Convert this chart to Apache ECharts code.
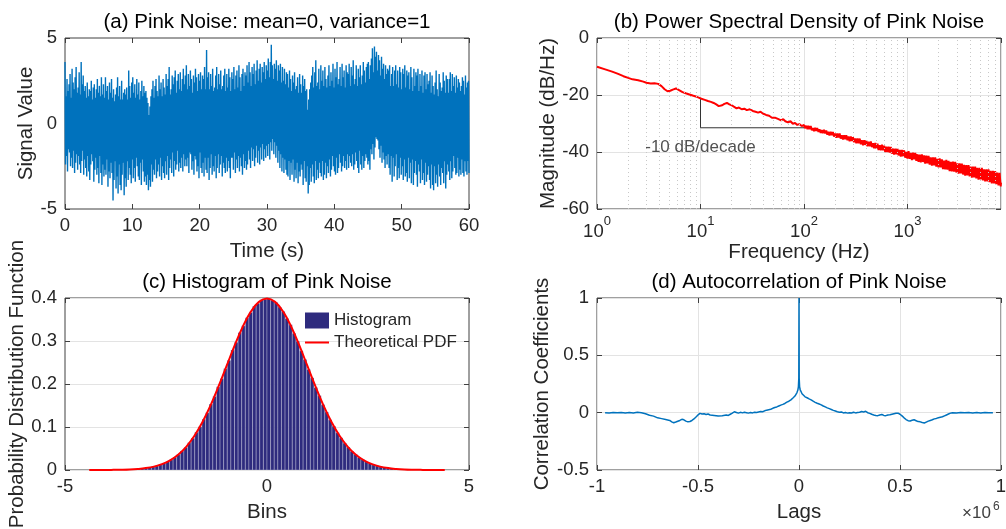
<!DOCTYPE html>
<html><head><meta charset="utf-8">
<script src="https://cdn.jsdelivr.net/npm/echarts@6/dist/echarts.min.js"></script>
<style>html,body{margin:0;padding:0;background:#fff}#c{width:1006px;height:529px}</style>
</head><body><div id="c"></div>
<script>
const FONT = '"Liberation Sans", Arial, Helvetica, sans-serif';

// ---------- (a) Pink noise time series: successive local max / min values ----------
const signalDuration = 60;
const signalValues = [
3.6,-2.4,1.6,-1.9,2.6,-2.8,1.9,-1.5,2.3,-1.7,2.9,-2.5,1.5,-2.0,3.2,-2.6,2.4,-1.6,2.0,-2.9,2.7,-2.3,3.3,-1.8,1.8,-2.7,2.1,-1.9,3.0,-2.4,1.7,-2.9,3.6,-2.2,2.3,-1.6,2.8,-3.0,1.9,-2.1,
2.2,-2.6,1.5,-3.1,2.4,-1.9,1.6,-2.8,2.0,-3.3,1.9,-2.4,2.5,-1.8,1.4,-2.2,2.1,-3.4,2.3,-2.7,1.5,-2.0,2.0,-3.0,2.6,-2.6,1.8,-3.5,2.2,-1.9,1.6,-2.9,2.7,-3.6,1.7,-2.4,2.3,-3.1,1.5,-2.7,
2.7,-3.0,1.9,-2.1,2.2,-3.7,1.4,-2.8,2.4,-3.2,1.8,-2.3,2.6,-2.9,1.5,-4.5,2.0,-3.3,1.3,-2.2,1.7,-3.8,2.1,-3.1,2.7,-4.1,1.6,-2.4,2.2,-3.6,1.4,-3.9,2.5,-3.0,1.4,-2.3,1.8,-4.2,2.0,-3.2,
1.7,-3.7,2.1,-2.2,1.4,-3.3,3.1,-2.6,2.2,-3.0,1.5,-3.5,2.4,-2.1,2.7,-3.2,1.8,-2.6,2.3,-3.4,1.5,-2.0,2.6,-2.5,1.7,-3.1,2.4,-3.3,1.4,-2.3,1.9,-3.6,2.5,-2.1,1.6,-2.8,2.2,-3.4,1.8,-3.1,
1.9,-3.6,1.5,-3.0,1.2,-3.9,0.5,-3.3,1.0,-3.7,1.6,-2.4,2.0,-3.4,2.5,-2.7,1.5,-3.0,2.2,-2.1,2.6,-3.2,1.9,-2.8,1.6,-2.4,2.8,-3.1,2.0,-2.0,2.4,-3.3,1.6,-2.5,2.6,-2.9,2.1,-3.2,1.7,-2.2,
2.9,-3.0,2.2,-1.9,2.6,-3.3,3.3,-2.6,1.7,-2.1,2.0,-2.9,2.8,-1.7,2.3,-3.1,2.7,-2.2,3.1,-2.7,1.8,-2.4,2.5,-1.6,2.9,-2.8,2.0,-2.3,3.0,-2.6,1.9,-2.0,2.6,-2.8,3.2,-1.8,2.3,-2.5,2.8,-2.1,
3.4,-2.5,2.0,-2.0,2.9,-2.9,2.2,-1.7,3.1,-1.8,2.6,-2.7,1.8,-2.2,2.8,-3.0,2.4,-1.9,3.2,-2.1,2.7,-2.8,1.9,-2.5,2.9,-3.2,2.5,-1.7,3.0,-2.6,2.0,-2.9,2.8,-2.3,2.6,-3.1,3.3,-2.0,2.0,-2.7,
4.3,-2.9,2.7,-2.0,3.0,-3.3,2.0,-2.6,2.9,-1.8,2.2,-3.0,3.2,-2.5,1.9,-2.8,2.1,-1.9,2.8,-3.2,3.3,-2.6,2.0,-1.8,2.9,-2.9,2.3,-2.4,3.1,-1.9,2.0,-3.1,2.2,-2.3,2.8,-2.6,3.2,-2.9,1.9,-2.0,
2.9,-2.8,2.1,-2.2,3.2,-2.6,2.7,-3.2,1.9,-2.0,3.0,-2.0,2.6,-2.7,3.3,-1.7,2.0,-2.9,2.8,-2.1,3.1,-2.6,2.1,-1.9,3.4,-2.8,2.7,-2.0,1.9,-2.5,2.9,-3.0,3.2,-1.8,2.2,-2.6,3.0,-2.2,2.8,-2.7,
3.4,-2.4,2.4,-1.6,3.6,-2.1,3.0,-2.6,2.2,-1.4,3.3,-2.2,2.9,-1.5,3.5,-2.5,2.3,-2.0,3.1,-1.3,3.7,-2.3,2.5,-1.6,3.2,-2.4,3.5,-1.4,2.4,-2.1,3.3,-1.2,3.0,-2.2,3.6,-1.5,2.6,-2.0,3.4,-1.3,
3.1,-1.9,3.8,-1.2,2.7,-2.1,3.6,-1.1,4.6,-1.6,3.4,-0.9,2.6,-1.8,3.5,-1.1,3.2,-2.0,3.7,-1.3,2.5,-2.3,3.4,-1.6,3.1,-2.6,3.5,-1.8,2.4,-2.8,3.3,-2.0,2.5,-2.9,3.2,-2.1,2.3,-2.7,3.0,-3.0,
2.9,-3.1,2.1,-2.2,3.1,-3.3,2.6,-2.3,1.9,-3.0,2.8,-2.1,2.4,-3.4,3.0,-2.7,2.0,-3.2,2.2,-2.3,2.7,-3.5,1.8,-2.8,2.9,-3.1,2.3,-2.4,1.8,-2.7,2.8,-3.6,2.2,-2.2,2.6,-3.2,1.9,-3.4,2.0,-2.5,
0.8,-4.1,1.4,-3.6,2.0,-2.6,2.4,-3.4,2.8,-2.4,3.3,-3.1,2.1,-3.5,3.0,-2.2,3.7,-3.3,2.2,-2.7,2.4,-3.2,3.2,-2.3,2.0,-2.9,3.4,-3.1,2.5,-2.2,3.1,-3.3,2.2,-3.0,3.3,-2.3,2.6,-3.2,2.1,-2.5,
2.8,-2.9,3.4,-2.1,2.2,-3.1,3.0,-2.7,2.5,-1.9,3.5,-2.5,2.1,-2.8,3.2,-3.0,2.7,-2.0,3.6,-2.9,2.3,-2.6,2.6,-1.8,3.3,-2.3,2.2,-2.8,3.5,-2.5,2.7,-1.9,3.1,-2.6,2.1,-2.2,3.4,-2.7,3.0,-1.8,
2.9,-2.6,3.5,-1.9,2.2,-2.3,3.3,-2.5,2.8,-1.8,3.7,-2.7,2.3,-2.4,2.6,-1.7,3.4,-2.2,2.2,-2.6,3.2,-2.9,2.7,-1.6,3.4,-2.4,2.3,-2.7,2.8,-1.9,3.6,-2.6,3.1,-2.2,2.4,-1.8,3.3,-2.0,3.5,-2.4,
3.6,-2.2,2.6,-2.7,3.4,-1.5,3.8,-1.8,4.4,-1.2,3.0,-2.1,4.5,-1.4,3.9,-0.8,4.2,-0.9,3.1,-1.0,4.0,-1.5,3.7,-2.0,2.8,-1.3,3.9,-2.3,3.2,-1.7,3.5,-2.1,2.6,-2.6,3.4,-1.9,2.9,-2.4,3.2,-1.8,
3.1,-2.6,3.4,-3.0,2.2,-1.9,2.9,-3.4,3.3,-2.0,2.2,-3.1,3.1,-2.5,3.4,-1.8,2.3,-3.3,3.1,-2.6,2.1,-3.2,3.3,-2.0,3.0,-3.0,2.0,-2.5,3.2,-3.3,2.9,-2.1,3.4,-3.1,2.1,-2.9,3.1,-3.4,2.8,-2.0,
3.0,-3.2,2.0,-2.3,3.3,-3.5,2.7,-2.1,1.9,-3.6,3.2,-2.9,2.2,-2.2,3.0,-3.0,2.8,-3.7,3.2,-2.4,1.9,-2.8,2.9,-3.5,2.2,-2.1,3.1,-3.3,1.8,-2.9,2.8,-3.6,3.0,-2.3,2.0,-3.4,2.9,-3.0,2.3,-2.5,
2.5,-3.3,3.0,-3.8,1.8,-2.4,2.8,-3.6,2.2,-3.9,1.7,-2.5,2.4,-3.5,3.1,-3.0,2.0,-3.7,1.6,-2.4,2.9,-3.1,2.4,-3.6,1.9,-2.6,2.1,-2.9,3.0,-3.5,2.5,-2.2,1.8,-3.8,2.8,-3.0,2.6,-2.4,1.8,-2.8,
2.6,-3.3,3.0,-2.2,1.9,-3.2,2.9,-2.8,2.2,-1.9,2.7,-2.6,1.8,-3.0,2.8,-2.9,2.1,-2.0,2.6,-3.1,2.4,-2.7,1.9,-3.0,2.2,-2.1,2.7,-2.9,2.5,-3.1,1.7,-2.2,2.8,-2.8,2.1,-3.0,2.4,-2.2,2.5,-2.9
];

// ---------- (b) PSD [frequency Hz, dB/Hz] ----------
const psdPoints = [
[1,-10.1],[1.2,-11.0],[1.4,-11.8],[1.6,-12.6],[1.8,-13.4],[2.0,-14.0],[2.2,-14.5],[2.5,-14.8],
[2.8,-15.3],[3.0,-15.7],[3.3,-16.0],[3.6,-15.9],[3.9,-16.1],[4.2,-16.9],[4.5,-18.0],[4.8,-18.7],
[5.1,-18.5],[5.4,-18.1],[5.8,-17.7],[6.2,-18.3],[6.7,-19.0],[7.2,-19.4],[7.8,-19.8],[8.4,-20.2],
[9.0,-20.5],[9.6,-20.9],[10.2,-21.3],[11,-21.7],[11.8,-22.1],[12.6,-22.4],[13.4,-22.8],[14.2,-23.3],
[15.0,-23.9],[15.6,-24.2],[16.2,-23.6],[17,-23.1],[18,-22.8],[19,-23.3],[20,-23.6],[21,-24.1],
[22.3,-24.7],[23.5,-24.4],[25,-25.0],[26.5,-24.8],[28,-25.3],[30,-25.0],[32,-25.6],[34,-25.9],
[36,-26.2],[38,-25.9],[40,-26.5],[43,-27.0],[46,-27.3],[49,-28.0],[51,-28.6],[53,-28.0],
[56,-28.4],[60,-28.9],[63,-28.5],[66,-29.2],[70,-29.6],[74,-29.2],[78,-30.1],[82,-29.8],
[86,-30.5],[90,-30.2],[95,-30.9],
[100,-30.5],[102,-31.7],[105,-30.8],[108,-32.0],[110,-30.8],[113,-32.0],[116,-30.9],[119,-32.4],
[122,-31.6],[125,-32.7],[128,-31.5],[131,-32.6],[134,-31.6],[138,-33.0],[141,-32.0],[145,-33.3],
[148,-32.3],[152,-33.4],[156,-32.2],[160,-33.5],[164,-32.5],[168,-33.9],[172,-32.9],[176,-34.2],
[181,-32.9],[185,-34.1],[190,-33.0],[195,-34.6],[200,-33.5],[205,-35.0],[210,-33.5],[215,-34.9],
[221,-33.5],[226,-35.3],[232,-34.1],[238,-35.6],[244,-34.1],[250,-35.5],[256,-34.1],[263,-35.9],
[269,-34.6],[276,-36.2],[283,-34.6],[290,-36.1],[297,-34.8],[305,-36.6],[312,-35.3],[320,-36.9],
[328,-35.3],[336,-36.9],[345,-35.3],[354,-37.3],[362,-35.9],[372,-37.6],[381,-35.9],[390,-37.5],
[400,-36.0],[410,-38.0],[420,-36.4],[431,-38.0],[442,-36.3],[453,-38.3],[464,-36.9],[476,-38.7],
[488,-36.8],[500,-38.8],[513,-37.1],[525,-39.3],[538,-37.6],[552,-39.4],[566,-37.4],[580,-39.4],
[594,-37.8],[609,-40.0],[624,-38.1],[640,-40.0],[656,-38.1],[672,-40.2],[689,-38.2],[706,-40.6],
[724,-38.8],[742,-40.9],[761,-38.8],[780,-40.8],[799,-38.8],[819,-41.2],[840,-39.3],[861,-41.6],
[882,-39.3],[904,-41.5],[927,-39.4],[950,-42.0],[974,-40.0],[998,-42.3],[1023,-39.7],[1049,-42.4],
[1075,-40.3],[1102,-42.8],[1130,-40.2],[1158,-42.6],[1187,-40.3],[1216,-43.1],[1247,-40.8],[1278,-43.5],
[1310,-40.9],[1343,-43.6],[1376,-40.8],[1411,-43.5],[1446,-41.2],[1482,-44.1],[1519,-41.3],[1557,-44.0],
[1596,-41.4],[1636,-44.4],[1677,-41.9],[1719,-44.8],[1762,-41.9],[1806,-44.7],[1851,-41.9],[1897,-45.1],
[1945,-42.4],[1993,-45.4],[2043,-42.2],[2094,-45.4],[2147,-42.6],[2200,-46.0],[2255,-43.0],[2312,-46.1],
[2370,-42.8],[2429,-46.2],[2490,-43.1],[2552,-46.7],[2616,-43.5],[2681,-46.8],[2748,-43.4],[2817,-46.9],
[2887,-43.5],[2959,-47.2],[3033,-44.0],[3109,-47.6],[3187,-44.0],[3267,-47.5],[3348,-44.1],[3432,-47.9],
[3518,-44.5],[3606,-48.3],[3696,-44.6],[3788,-48.2],[3883,-44.6],[3980,-48.6],[4079,-45.1],[4181,-49.0],
[4286,-45.1],[4393,-48.9],[4503,-45.1],[4615,-49.3],[4731,-45.6],[4849,-49.7],[4970,-45.6],[5094,-49.6],
[5222,-45.6],[5352,-50.0],[5486,-46.1],[5623,-50.3],[5764,-46.1],[5908,-50.3],[6056,-46.1],[6207,-50.6],
[6362,-46.6],[6521,-51.0],[6684,-46.6],[6852,-51.0],[7023,-46.7],[7198,-51.3],[7378,-47.2],[7563,-51.7],
[7752,-47.3],[7946,-52.1],[8000,-50.8]
];
const psdMaxFreq = 8000;
const minorGridFreqs = [2,3,4,5,6,7,8,9,20,30,40,50,60,70,80,90,200,300,400,500,600,700,800,900,2000,3000,4000,5000,6000,7000];
const slopeGuide = [[10,-21.5],[10,-31.5],[100,-31.5]];
const slopeLabelText = '-10 dB/decade';
const slopeLabelPos = [10, -38.5];

// ---------- (c) Histogram (100 bins over the sample range) ----------
const histBinStart = -4.47;
const histBinWidth = 0.0894;
const histFirstBin = 10;
const histValues = [
0.0007,0.0011,0.0015,0.0019,0.0026,0.0033,0.0046,0.0057,0.0076,0.0096,0.0125,0.0154,0.0197,0.0239,0.0299,0.0360,0.0443,0.0524,0.0634,0.0738,
0.0878,0.1008,0.1180,0.1333,0.1534,0.1711,0.1935,0.2124,0.2357,0.2551,0.2790,0.2972,0.3195,0.3352,0.3541,0.3664,0.3806,0.3876,0.3960,0.3972,
0.3990,0.3948,0.3897,0.3790,0.3688,0.3525,0.3376,0.3178,0.2994,0.2772,0.2571,0.2340,0.2143,0.1919,0.1729,0.1520,0.1349,0.1167,0.1021,0.0868,
0.0748,0.0626,0.0532,0.0437,0.0365,0.0295,0.0243,0.0193,0.0157,0.0122,0.0098,0.0074,0.0059,0.0044,0.0035,0.0025,0.0019,0.0013,0.0011,0.0008
];
const pdfX = [-4.4,-4.2,-4.0,-3.8,-3.6,-3.4,-3.2,-3.0,-2.8,-2.6,-2.4,-2.2,-2.0,-1.8,-1.6,-1.4,-1.2,-1.0,-0.8,-0.6,-0.4,-0.2,
0,0.2,0.4,0.6,0.8,1.0,1.2,1.4,1.6,1.8,2.0,2.2,2.4,2.6,2.8,3.0,3.2,3.4,3.6,3.8,4.0,4.2,4.4];
const pdfY = [0.0000,0.0001,0.0001,0.0003,0.0006,0.0012,0.0024,0.0044,0.0079,0.0136,0.0224,0.0355,0.0540,0.0790,0.1109,0.1497,0.1942,0.2420,0.2897,0.3332,0.3683,0.3910,
0.3989,0.3910,0.3683,0.3332,0.2897,0.2420,0.1942,0.1497,0.1109,0.0790,0.0540,0.0355,0.0224,0.0136,0.0079,0.0044,0.0024,0.0012,0.0006,0.0003,0.0001,0.0001,0.0000];

// ---------- (d) Autocorrelation [lag x1e6, coefficient] ----------
const acfPoints = [
[-0.96,0.000],[-0.94,-0.003],[-0.92,0.002],[-0.90,-0.001],[-0.88,0.001],[-0.86,-0.003],[-0.84,0.002],[-0.82,-0.002],
[-0.80,0.003],[-0.78,0.000],[-0.76,-0.010],[-0.74,-0.022],[-0.72,-0.030],[-0.70,-0.045],[-0.68,-0.052],[-0.66,-0.060],
[-0.64,-0.068],[-0.63,-0.080],[-0.62,-0.088],[-0.61,-0.082],[-0.60,-0.075],[-0.59,-0.068],[-0.58,-0.058],[-0.57,-0.062],
[-0.56,-0.074],[-0.55,-0.080],[-0.54,-0.077],[-0.53,-0.068],[-0.52,-0.055],[-0.51,-0.038],[-0.50,-0.020],[-0.49,-0.006],
[-0.48,-0.012],[-0.47,-0.009],[-0.46,-0.016],[-0.45,-0.012],[-0.44,-0.020],[-0.42,-0.024],[-0.40,-0.030],[-0.38,-0.026],
[-0.36,-0.020],[-0.35,-0.024],[-0.34,-0.014],[-0.33,-0.004],[-0.32,0.008],[-0.31,0.002],[-0.30,-0.004],[-0.29,0.003],
[-0.28,-0.002],[-0.27,0.004],[-0.26,0.000],[-0.25,-0.004],[-0.24,0.002],[-0.23,-0.002],[-0.22,0.004],[-0.21,0.001],
[-0.20,0.006],[-0.19,0.010],[-0.18,0.008],[-0.17,0.016],[-0.16,0.022],[-0.15,0.026],[-0.14,0.030],[-0.13,0.038],
[-0.12,0.045],[-0.11,0.050],[-0.10,0.058],[-0.09,0.066],[-0.08,0.072],[-0.07,0.080],[-0.06,0.092],[-0.05,0.100],
[-0.04,0.112],[-0.03,0.128],[-0.025,0.138],[-0.02,0.145],[-0.015,0.160],[-0.01,0.175],[-0.006,0.195],[-0.003,0.225],
[-0.001,0.30],[0,1.0],[0.001,0.30],[0.003,0.225],[0.006,0.200],[0.01,0.185],[0.015,0.165],[0.02,0.150],
[0.03,0.138],[0.04,0.130],[0.05,0.120],[0.06,0.112],[0.07,0.100],[0.08,0.090],[0.09,0.082],[0.10,0.075],
[0.11,0.068],[0.12,0.058],[0.13,0.050],[0.14,0.042],[0.15,0.035],[0.16,0.028],[0.17,0.020],[0.18,0.014],
[0.19,0.008],[0.20,0.003],[0.21,0.006],[0.22,-0.002],[0.23,0.002],[0.24,-0.004],[0.25,0.000],[0.26,-0.003],
[0.27,0.003],[0.28,-0.002],[0.29,0.002],[0.30,0.004],[0.31,0.010],[0.32,0.006],[0.33,0.012],[0.34,0.000],
[0.35,-0.006],[0.36,-0.014],[0.37,-0.020],[0.38,-0.024],[0.39,-0.026],[0.40,-0.020],[0.41,-0.016],[0.42,-0.024],
[0.43,-0.026],[0.44,-0.020],[0.45,-0.018],[0.46,-0.014],[0.47,-0.010],[0.48,-0.006],[0.49,-0.004],[0.50,-0.014],
[0.51,-0.028],[0.52,-0.045],[0.53,-0.060],[0.54,-0.070],[0.55,-0.072],[0.56,-0.066],[0.57,-0.062],[0.58,-0.070],
[0.59,-0.078],[0.60,-0.080],[0.61,-0.086],[0.62,-0.090],[0.63,-0.082],[0.64,-0.074],[0.65,-0.068],[0.66,-0.062],
[0.67,-0.054],[0.68,-0.050],[0.69,-0.044],[0.70,-0.040],[0.71,-0.036],[0.72,-0.028],[0.73,-0.020],[0.74,-0.012],
[0.75,-0.004],[0.76,0.000],[0.78,-0.002],[0.80,0.002],[0.82,-0.001],[0.84,0.002],[0.86,-0.002],[0.88,0.001],
[0.90,-0.002],[0.92,0.001],[0.94,-0.001],[0.96,0.000]
];

// ---------- styling ----------
const TXT = '#262626';
const AX = '#404040';
const GRIDC = '#e3e3e3';
const TICK_FS = 18.5, NAME_FS = 20.5;

const signalData = signalValues.map((v, i) => [i * signalDuration / (signalValues.length - 1), v]);
const histData = histValues.map((v, i) => [histBinStart + (histFirstBin + i + 0.5) * histBinWidth, v]);
const pdfData = pdfX.map((x, i) => [x, pdfY[i]]);

function tick() { return {show: true, inside: true, length: 5, lineStyle: {color: AX, width: 1}}; }
function lab(margin) { return {color: TXT, fontSize: TICK_FS, fontFamily: FONT, margin: margin}; }
const nameStyle = {color: TXT, fontSize: NAME_FS, fontFamily: FONT};
function split(show) { return {show: show, lineStyle: {color: GRIDC, width: 1}}; }
const noLine = {show: false, onZero: false};

const grids = [
  {left: 65, top: 38, width: 404, height: 171},
  {left: 597, top: 38, width: 404, height: 171},
  {left: 65, top: 298, width: 404, height: 172},
  {left: 597, top: 298, width: 404, height: 172}
].map(g => Object.assign(g, {show: true, borderColor: AX, borderWidth: 1, backgroundColor: 'transparent', containLabel: false, outerBoundsMode: 'none'}));

const xDefs = [
  {type: 'value', min: 0, max: 60, interval: 10, split: false, name: 'Time (s)'},
  {type: 'log', min: 1, max: psdMaxFreq, split: true, name: 'Frequency (Hz)'},
  {type: 'value', min: -5, max: 5, interval: 5, split: false, name: 'Bins'},
  {type: 'value', min: -1, max: 1, interval: 0.5, split: true, name: 'Lags'}
];
const yDefs = [
  {min: -5, max: 5, interval: 5, split: false, name: 'Signal Value', gap: 26},
  {min: -60, max: 0, interval: 20, split: true, name: 'Magnitude (dB/Hz)', gap: 34},
  {min: 0, max: 0.4, interval: 0.1, split: true, name: 'Probability Distribution Function', gap: 33},
  {min: -0.5, max: 1, interval: 0.5, split: true, name: 'Correlation Coefficients', gap: 40}
];

const xAxis = [], yAxis = [];
xDefs.forEach((d, i) => {
  const ax = {gridIndex: i, type: d.type, min: d.min, max: d.max, position: 'bottom',
    axisLine: noLine, axisTick: tick(), splitLine: split(d.split),
    axisLabel: lab(7), name: d.name, nameLocation: 'middle', nameGap: 32, nameTextStyle: nameStyle};
  if (d.interval != null) ax.interval = d.interval;
  if (d.type === 'log') {
    ax.logBase = 10;
    ax.axisLabel = Object.assign(lab(6), {
      showMaxLabel: false,
      formatter: v => '{b|10}{s|' + Math.round(Math.log10(v)) + '}',
      rich: {
        b: {fontSize: TICK_FS, fontFamily: FONT, color: TXT, lineHeight: 26, verticalAlign: 'bottom'},
        s: {fontSize: 13, fontFamily: FONT, color: TXT, lineHeight: 14, verticalAlign: 'top'}
      }
    });
  }
  xAxis.push(ax);
});
xDefs.forEach((d, i) => {
  const ax = {gridIndex: i, type: d.type, min: d.min, max: d.max, position: 'top',
    axisLine: noLine, axisTick: tick(), splitLine: {show: false}, axisLabel: {show: false}};
  if (d.interval != null) ax.interval = d.interval;
  if (d.type === 'log') ax.logBase = 10;
  xAxis.push(ax);
});
yDefs.forEach((d, i) => {
  yAxis.push({gridIndex: i, type: 'value', min: d.min, max: d.max, interval: d.interval, position: 'left',
    axisLine: noLine, axisTick: tick(), splitLine: split(d.split), axisLabel: lab(8),
    name: d.name, nameLocation: 'middle', nameGap: d.gap, nameTextStyle: nameStyle});
});
yDefs.forEach((d, i) => {
  yAxis.push({gridIndex: i, type: 'value', min: d.min, max: d.max, interval: d.interval, position: 'right',
    axisLine: noLine, axisTick: tick(), splitLine: {show: false}, axisLabel: {show: false}});
});

const titleStyle = {color: '#000', fontSize: NAME_FS, fontWeight: 'normal', fontFamily: FONT};
const titles = [
  ['(a) Pink Noise: mean=0, variance=1', 267, 12],
  ['(b) Power Spectral Density of Pink Noise', 799, 12],
  ['(c) Histogram of Pink Noise', 267, 272],
  ['(d) Autocorrelation of Pink Noise', 799, 272]
].map(t => ({text: t[0], left: t[1], top: t[2], textAlign: 'center', padding: 0, textStyle: titleStyle}));

const option = {
  animation: false,
  backgroundColor: '#fff',
  textStyle: {fontFamily: FONT},
  title: titles,
  grid: grids,
  xAxis: xAxis,
  yAxis: yAxis,
  legend: {
    left: 305, top: 312, orient: 'vertical', padding: 0, itemWidth: 24, itemHeight: 16, itemGap: 5,
    selectedMode: false,
    textStyle: {fontSize: 17, color: TXT, fontFamily: FONT},
    data: [
      {name: 'Histogram', icon: 'rect'},
      {name: 'Theoretical PDF', icon: 'path://M0,0L24,0L24,2L0,2Z'}
    ]
  },
  graphic: [
    {type: 'text', x: 962, y: 513, style: {text: '×10', fill: '#404040', font: '17px ' + FONT, verticalAlign: 'middle', align: 'left'}},
    {type: 'text', x: 993, y: 507, style: {text: '6', fill: '#404040', font: '12px ' + FONT, verticalAlign: 'middle', align: 'left'}}
  ],
  series: [
    {name: 'signal', type: 'line', xAxisIndex: 0, yAxisIndex: 0, data: signalData, showSymbol: false, symbol: 'none',
      lineStyle: {color: '#0072BD', width: 1.4}, z: 3},
    {name: 'minorGrid', type: 'line', xAxisIndex: 1, yAxisIndex: 1, data: [], z: 1,
      markLine: {silent: true, symbol: ['none', 'none'], label: {show: false}, animation: false,
        lineStyle: {type: [1, 3], color: '#c8c8c8', width: 1},
        data: minorGridFreqs.map(f => ({xAxis: f}))}},
    {name: 'psd', type: 'line', xAxisIndex: 1, yAxisIndex: 1, data: psdPoints, showSymbol: false, symbol: 'none',
      lineStyle: {color: '#ff0000', width: 2}, z: 3},
    {name: 'guide', type: 'line', xAxisIndex: 1, yAxisIndex: 1, data: slopeGuide, showSymbol: false, symbol: 'none',
      lineStyle: {color: '#333', width: 1}, z: 4},
    {name: 'guideLabel', type: 'scatter', xAxisIndex: 1, yAxisIndex: 1, data: [slopeLabelPos], symbolSize: 0, z: 5,
      label: {show: true, position: 'inside', formatter: slopeLabelText, fontSize: 17, color: TXT, fontFamily: FONT}},
    {name: 'Histogram', type: 'custom', xAxisIndex: 2, yAxisIndex: 2, data: histData, encode: {x: 0, y: 1},
      itemStyle: {color: '#2e2b7e'}, z: 2,
      renderItem: (params, api) => {
        const c = api.value(0), v = api.value(1);
        const p0 = api.coord([c - histBinWidth / 2, v]);
        const p1 = api.coord([c + histBinWidth / 2, 0]);
        return {type: 'rect', shape: {x: p0[0], y: p0[1], width: p1[0] - p0[0], height: p1[1] - p0[1]},
          style: {fill: api.visual('color'), stroke: 'rgba(255,255,255,0.55)', lineWidth: 0.5}};
      }},
    {name: 'Theoretical PDF', type: 'line', xAxisIndex: 2, yAxisIndex: 2, data: pdfData, showSymbol: false, symbol: 'none',
      smooth: 0.4, lineStyle: {color: '#ff0000', width: 2}, itemStyle: {color: '#ff0000'}, z: 4},
    {name: 'acf', type: 'line', xAxisIndex: 3, yAxisIndex: 3, data: acfPoints, showSymbol: false, symbol: 'none',
      lineStyle: {color: '#0072BD', width: 1.5}, z: 3}
  ]
};

const chart = echarts.init(document.getElementById('c'), null, {renderer: 'canvas'});
chart.setOption(option);
</script>
</body></html>
